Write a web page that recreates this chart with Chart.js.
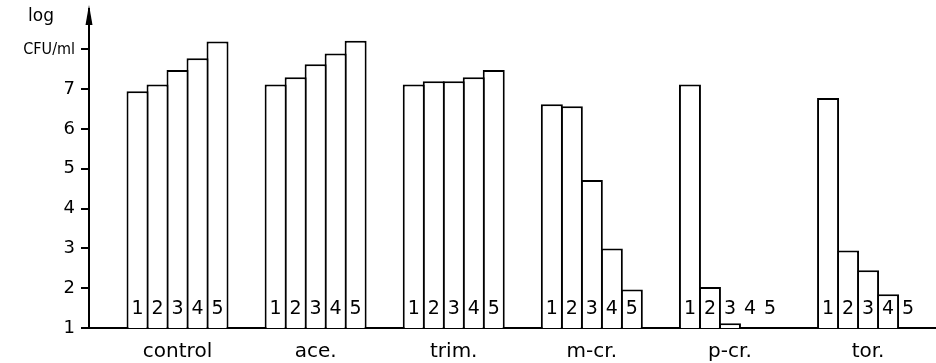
<!DOCTYPE html>
<html>
<head>
<meta charset="utf-8">
<script src="https://cdn.jsdelivr.net/npm/chart.js@4.4.1/dist/chart.umd.min.js"></script>
<style>
  html, body { margin: 0; padding: 0; background: #fff; }
  canvas { display: block; }
</style>
</head>
<body>
<canvas id="cfu-chart" width="936" height="363"></canvas>
<script>
// treatment groups along the x axis
var groups = ["control", "ace.", "trim.", "m-cr.", "p-cr.", "tor."];
// bar numbers inside each group
var barLabels = ["1", "2", "3", "4", "5"];
// log CFU/ml for bar 1..5 of each group (null = no bar)
var bar1 = [6.95, 7.12, 7.12, 6.62, 7.12, 6.78];
var bar2 = [7.12, 7.30, 7.20, 6.57, 2.03, 2.95];
var bar3 = [7.48, 7.63, 7.20, 4.72, 1.12, 2.45];
var bar4 = [7.78, 7.90, 7.30, 3.00, null, 1.85];
var bar5 = [8.20, 8.22, 7.48, 1.97, null, null];
var yTicks = [1, 2, 3, 4, 5, 6, 7, 8];
var yTopLabel = "CFU/ml";
var yUnitLabel = "log";

var series = [bar1, bar2, bar3, bar4, bar5];
var font = '"DejaVu Sans", sans-serif';
var narrow = '"DejaVu Sans Condensed", "DejaVu Sans", sans-serif';

var datasets = series.map(function(values, i){
    return {
        label: barLabels[i],
        data: values.map(function(v, j){ return {x: j, y: v}; }),
        backgroundColor: "#fff",
        borderColor: "#000",
        borderWidth: 2,
        borderSkipped: 'start',
        categoryPercentage: 0.724,
        barPercentage: 1.1
    };
});

var extras = {
    id: 'extras',
    afterDatasetsDraw: function(chart) {
        var ctx = chart.ctx, yScale = chart.scales.y;
        ctx.save();
        ctx.fillStyle = "#000";
        ctx.font = '19px ' + font;
        ctx.textAlign = 'center';
        ctx.textBaseline = 'middle';
        chart.data.datasets.forEach(function(ds, i){
            chart.getDatasetMeta(i).data.forEach(function(bar){
                ctx.fillText(ds.label, bar.x, yScale.getPixelForValue(1.48));
            });
        });
        ctx.restore();
    },
    afterDraw: function(chart) {
        var ctx = chart.ctx, ax = chart.chartArea.left;
        ctx.save();
        ctx.fillStyle = "#000";
        ctx.fillRect(ax - 1, 8, 2, chart.chartArea.top - 6);
        ctx.beginPath();
        ctx.moveTo(ax, 5);
        ctx.lineTo(ax - 3.5, 25);
        ctx.lineTo(ax + 3.5, 25);
        ctx.closePath();
        ctx.fill();
        ctx.font = '17px ' + font;
        ctx.textAlign = 'center';
        ctx.textBaseline = 'middle';
        ctx.fillText(yUnitLabel, 41, 17);
        ctx.restore();
    }
};

var cfuChart = new Chart(document.getElementById("cfu-chart"), {
    type: 'bar',
    data: { datasets: datasets },
    options: {
        responsive: false,
        animation: false,
        devicePixelRatio: 1,
        layout: { padding: { left: 0, right: 0, top: 0, bottom: 0 } },
        plugins: {
            legend: { display: false },
            tooltip: { enabled: false }
        },
        scales: {
            x: {
                type: 'linear',
                offset: false,
                min: -0.641,
                max: 5.492,
                grid: { display: false, offset: false },
                border: { display: true, color: "#000", width: 2 },
                afterBuildTicks: function(scale){
                    scale.ticks = groups.map(function(g, i){ return {value: i}; });
                },
                afterFit: function(scale){ scale.height = 35; },
                ticks: {
                    autoSkip: false,
                    maxRotation: 0,
                    padding: 4,
                    color: "#000",
                    font: { family: font, size: 20 },
                    callback: function(v){ return groups[v]; }
                }
            },
            y: {
                min: 1,
                max: 8.85,
                grid: { display: true, drawOnChartArea: false, drawTicks: true, tickLength: 8, color: "#000", lineWidth: 2 },
                border: { display: true, color: "#000", width: 2 },
                afterBuildTicks: function(scale){
                    scale.ticks = yTicks.map(function(v){ return {value: v}; });
                },
                afterFit: function(scale){ scale.width = 89; },
                ticks: {
                    padding: 6,
                    color: "#000",
                    font: function(c){
                        return c.tick && c.tick.value === 8 ? {family: narrow, size: 16} : {family: font, size: 18};
                    },
                    callback: function(v){ return v === 8 ? yTopLabel : String(v); }
                }
            }
        }
    },
    plugins: [extras]
});
</script>
</body>
</html>
